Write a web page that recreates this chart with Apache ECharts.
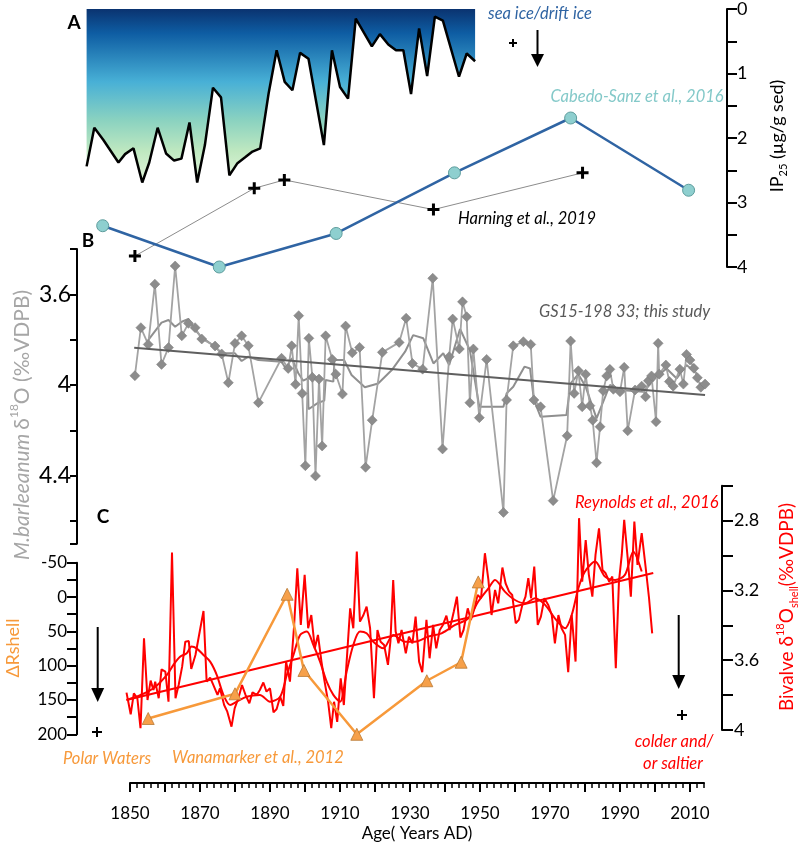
<!DOCTYPE html>
<html>
<head>
<meta charset="utf-8">
<script src="https://cdn.jsdelivr.net/npm/echarts@6/dist/echarts.min.js"></script>
<style>html,body{margin:0;padding:0;background:#fff}#c{width:800px;height:845px}</style>
</head>
<body>
<div id="c"></div>
<script>
// ---------------- DATA ----------------
// Panel A: IP25 record (black line, filled)
const ip25Years = [1837.6,1839.8,1842.4,1846.7,1848.6,1851.0,1853.5,1855.5,1857.9,1860.3,1862.6,1864.7,1867.0,1869.2,1871.4,1873.7,1876.0,1878.4,1880.7,1882.9,1885.0,1887.2,1889.6,1891.9,1894.2,1896.4,1898.6,1901.0,1905.4,1907.7,1910.0,1912.3,1914.5,1919.1,1921.4,1923.8,1926.0,1928.1,1930.3,1932.6,1934.9,1937.1,1939.4,1944.0,1946.2,1948.6];
const ip25Values = [2.44,1.84,2.03,2.38,2.25,2.16,2.69,2.38,1.84,2.24,2.35,2.32,1.76,2.69,2.11,1.22,1.37,2.58,2.39,2.30,2.21,2.16,1.31,0.64,1.13,1.26,0.68,0.77,2.11,0.64,1.21,1.39,0.15,0.58,0.39,0.55,0.64,0.64,1.32,0.30,1.04,0.12,0.18,1.05,0.69,0.81];
// Cabedo-Sanz et al., 2016
const cabedoYears = [1842.2,1875.5,1908.9,1942.7,1975.9,2009.6];
const cabedoValues = [3.36,4.0,3.48,2.54,1.69,2.81];
// Harning et al., 2019
const harningYears = [1851.4,1885.5,1894.1,1936.7,1979.3];
const harningValues = [3.83,2.78,2.65,3.11,2.54];

// Panel B: M. barleeanum d18O (GS15-198 33)
const bYears = [1851.4,1853.1,1855.2,1857.1,1859.0,1861.0,1862.9,1864.8,1866.7,1868.6,1870.5,1874.3,1876.2,1878.1,1880.0,1881.9,1883.8,1886.7,1893.3,1895.2,1896.2,1897.3,1898.2,1899.2,1900.1,1901.1,1902.1,1903.0,1904.0,1904.9,1905.9,1907.8,1908.8,1910.7,1911.6,1913.5,1915.6,1917.3,1919.2,1922.1,1926.9,1928.9,1930.7,1933.6,1936.5,1939.3,1941.2,1942.2,1944.1,1945.0,1946.2,1947.1,1948.1,1949.8,1951.9,1956.7,1957.6,1959.5,1962.4,1964.5,1965.4,1967.3,1970.9,1974.9,1975.9,1976.9,1978.1,1979.2,1980.2,1981.4,1982.2,1983.3,1984.3,1985.2,1986.2,1987.1,1988.1,1990.0,1991.2,1992.2,1994.3,1996.2,1997.3,1998.1,1999.0,2000.3,2000.9,2001.2,2003.1,2004.1,2005.2,2007.1,2008.1,2009.0,2010.0,2011.1,2012.1,2013.1,2014.3];
const bValues = [3.959,3.747,3.821,3.555,3.909,3.835,3.475,3.783,3.728,3.747,3.797,3.828,3.863,3.990,3.816,3.783,3.827,4.078,3.882,3.927,3.827,3.997,3.694,4.037,4.356,3.794,3.966,4.401,3.974,4.269,3.783,3.887,3.952,4.040,3.740,3.858,3.834,4.363,4.155,3.856,3.812,3.705,3.905,3.930,3.529,4.282,3.875,3.709,3.841,3.633,3.699,4.078,3.841,4.144,3.887,4.562,4.066,3.827,3.809,3.821,4.066,4.096,4.510,4.224,3.806,4.037,3.937,4.096,3.953,4.091,4.155,4.343,4.184,4.025,3.960,3.931,4.019,4.030,3.922,4.202,4.022,4.005,4.052,3.981,3.960,4.162,3.816,3.952,3.912,3.985,4.005,3.930,3.996,3.865,3.890,3.926,3.968,4.010,3.996];
const bSmoothYears = [1855.2,1859.0,1861.0,1862.9,1864.8,1866.7,1868.6,1870.5,1874.3,1876.2,1880.0,1881.9,1883.8,1886.7,1893.3,1894.5,1896.2,1898.1,1899.5,1900.8,1901.0,1903.8,1905.5,1905.9,1908.1,1908.4,1911.2,1913.3,1917.1,1920.9,1924.8,1928.6,1930.9,1933.8,1936.7,1939.5,1941.2,1944.3,1947.1,1949.8,1956.7,1957.6,1959.5,1962.7,1964.3,1965.4,1967.3,1974.7,1975.9,1978.1,1980.2,1983.3,1987.1,1990.0,1996.7,2000.5,2003.3,2006.2,2009.0,2011.9];
const bSmoothValues = [3.802,3.725,3.713,3.743,3.721,3.709,3.757,3.790,3.831,3.860,3.860,3.894,3.875,3.890,3.897,3.927,3.882,3.948,3.981,3.971,4.107,4.078,4.069,3.978,3.985,3.890,3.890,3.956,4.010,3.993,3.934,3.853,3.780,3.794,3.905,3.860,3.912,3.753,3.846,4.096,4.096,4.037,4.008,3.919,3.927,4.066,4.140,4.132,3.993,3.952,4.008,4.147,4.000,4.022,4.030,3.963,3.927,3.971,3.912,3.948];
const bTrendYears = [1851.2,2014.3];
const bTrendValues = [3.836,4.044];

// Panel C: Reynolds et al., 2016 bivalve d18O
const reyYears = [1849.0,1850.2,1851.1,1852.1,1853.0,1854.0,1855.0,1855.9,1856.7,1857.2,1858.2,1859.0,1860.1,1861.0,1862.0,1863.0,1863.9,1864.9,1865.8,1866.8,1867.5,1868.7,1870.0,1871.0,1871.9,1872.9,1873.8,1875.0,1875.7,1876.9,1877.8,1879.0,1879.9,1881.0,1882.0,1883.0,1884.1,1885.0,1886.2,1887.1,1888.1,1889.0,1890.0,1891.0,1891.9,1892.9,1893.8,1894.6,1895.7,1896.9,1897.8,1898.8,1899.9,1900.9,1901.8,1902.8,1903.7,1904.7,1905.6,1906.6,1907.5,1908.3,1909.2,1910.2,1911.1,1911.9,1912.9,1913.8,1914.8,1915.7,1916.7,1917.6,1918.6,1919.7,1920.7,1921.6,1922.6,1923.7,1924.4,1925.2,1925.9,1926.7,1927.6,1928.8,1929.7,1930.7,1931.6,1932.6,1933.5,1934.7,1935.6,1936.6,1937.5,1938.5,1939.4,1940.4,1941.3,1942.5,1943.4,1944.4,1945.3,1946.5,1947.4,1948.4,1949.3,1950.3,1951.4,1952.4,1953.3,1954.3,1955.2,1956.4,1957.3,1958.3,1959.2,1960.2,1961.1,1962.1,1963.0,1963.8,1964.6,1965.5,1966.5,1967.4,1968.4,1969.5,1970.5,1971.4,1972.4,1973.3,1974.3,1975.2,1976.2,1977.3,1978.3,1979.2,1980.2,1981.1,1982.1,1983.0,1984.0,1985.0,1985.9,1986.9,1987.8,1988.8,1989.7,1990.5,1991.2,1992.2,1993.1,1994.1,1995.0,1996.2,1997.3,1998.3,1999.2];
const reyValues = [3.786,3.910,3.790,3.818,3.990,3.474,3.828,3.717,3.771,3.723,3.818,3.652,3.665,3.838,2.983,3.818,3.742,3.637,3.494,3.490,3.650,3.570,3.427,3.318,3.723,3.700,3.742,3.799,3.761,3.857,3.895,3.981,3.876,3.815,3.742,3.799,3.847,3.784,3.799,3.771,3.728,3.780,3.761,3.899,3.880,3.809,3.862,3.608,3.723,3.398,3.073,3.398,3.111,3.417,3.341,3.532,3.455,3.608,3.723,3.838,3.990,3.838,3.953,3.704,3.857,3.608,3.303,3.417,2.978,3.379,3.341,3.293,3.417,3.818,3.427,3.494,3.513,3.627,3.494,3.140,3.436,3.503,3.427,3.561,3.465,3.503,3.350,3.608,3.669,3.369,3.589,3.398,3.532,3.427,3.398,3.345,3.427,3.322,3.236,3.470,3.427,3.303,3.369,3.303,3.226,3.245,2.987,3.140,3.341,3.197,3.274,3.069,3.159,3.207,3.226,3.388,3.369,3.283,3.236,3.130,3.245,3.063,3.398,3.350,3.245,3.283,3.341,3.503,3.341,3.417,3.455,3.669,3.341,3.608,2.786,3.150,2.911,3.111,3.236,2.997,2.844,3.083,3.102,3.150,3.121,3.646,3.150,2.997,2.796,3.016,3.236,2.805,3.054,2.872,3.063,3.245,3.446];
const reySmoothYears = [1849.0,1852.9,1856.7,1860.5,1862.4,1864.3,1866.2,1867.6,1869.0,1871.0,1872.9,1874.8,1876.7,1878.6,1880.5,1883.3,1887.1,1890.0,1892.9,1894.8,1896.7,1898.6,1900.5,1902.4,1904.3,1906.2,1908.1,1910.0,1911.9,1913.8,1915.7,1917.6,1919.5,1922.4,1925.2,1928.6,1931.4,1935.2,1939.0,1942.9,1946.7,1949.5,1952.4,1954.3,1957.1,1960.0,1962.9,1965.7,1968.6,1971.4,1974.3,1976.2,1978.1,1980.0,1982.9,1985.7,1988.6,1991.4,1993.8,1996.2];
const reySmoothValues = [3.828,3.800,3.761,3.685,3.627,3.580,3.560,3.522,3.532,3.570,3.608,3.685,3.799,3.857,3.838,3.809,3.799,3.838,3.809,3.685,3.570,3.455,3.436,3.513,3.608,3.723,3.799,3.838,3.665,3.513,3.436,3.446,3.494,3.532,3.455,3.494,3.494,3.465,3.446,3.398,3.360,3.264,3.188,3.140,3.207,3.255,3.274,3.245,3.283,3.360,3.417,3.341,3.188,3.092,3.035,3.121,3.140,3.111,2.978,3.092];
const reyTrendYears = [1849.0,1999.5];
const reyTrendValues = [3.828,3.10];
// Wanamarker et al., 2012 (Delta R shell)
const wanYears = [1855.2,1880.0,1894.9,1899.7,1914.8,1934.8,1944.6,1949.5];
const wanValues = [177,141,-4,107,200,122,95,-22];

// ---------------- CHART ----------------
const FONT = 'Lato, "Open Sans", sans-serif';
const X0 = 130, PPY = 3.5;              // pixel of 1850, pixels per year
const yr = px => 1850 + (px - X0) / PPY;
const pairs = (xs, ys) => xs.map((x, i) => [x, ys[i]]);
const near = (a, b) => Math.abs(a - b) < 1e-6;

const G = [
  {left: 77, width: 650, top: 9, height: 258},        // A
  {left: 77, width: 650, top: 249, height: 294.7},    // B
  {left: 77, width: 650, top: 562.7, height: 171.6},  // C left (Delta R)
  {left: 77, width: 645, top: 485.7, height: 244.3},  // C right (bivalve)
  {left: 130, width: 574, top: 700, height: 83},      // x axis minor
  {left: 130, width: 560, top: 700, height: 83}       // x axis major
];
const grids = G.map(g => Object.assign({containLabel: false, outerBoundsMode: 'none'}, g));

const hiddenX = G.slice(0, 4).map((g, i) => ({
  gridIndex: i, type: 'value', show: false,
  min: yr(g.left), max: yr(g.left + g.width)
}));
const noSplit = {show: false};

const xAxes = hiddenX.concat([
  {gridIndex: 4, type: 'value', min: 1850, max: 2014, interval: 2, position: 'bottom',
   axisLine: {show: true, onZero: false, lineStyle: {color: '#000', width: 2}},
   axisTick: {show: true, length: 5, lineStyle: {color: '#000', width: 1.5}},
   axisLabel: {show: false}, splitLine: noSplit},
  {gridIndex: 5, type: 'value', min: 1850, max: 2010, interval: 10, position: 'bottom',
   axisLine: {show: false, onZero: false},
   axisTick: {show: true, length: 9, lineStyle: {color: '#000', width: 2}},
   axisLabel: {show: true, margin: 22, fontSize: 17, color: '#000', fontFamily: FONT,
     formatter: v => ((Math.round(v) - 1850) % 20 === 0 ? String(Math.round(v)) : '')},
   splitLine: noSplit}
]);

const yAxes = [
  {gridIndex: 0, type: 'value', position: 'right', inverse: true, min: 0, max: 4, interval: 0.5,
   axisLine: {show: true, onZero: false, lineStyle: {color: '#000', width: 2}},
   axisTick: {show: true, length: 10, lineStyle: {color: '#000', width: 2}},
   axisLabel: {margin: 10, fontSize: 18, color: '#000', fontFamily: FONT,
     formatter: v => (near(v, Math.round(v)) ? String(Math.round(v)) : '')},
   splitLine: noSplit},
  {gridIndex: 1, type: 'value', position: 'left', inverse: true, min: 3.4, max: 4.7, interval: 0.2,
   axisLine: {show: true, onZero: false, lineStyle: {color: '#000', width: 2}},
   axisTick: {show: true, length: 7, lineStyle: {color: '#000', width: 2}},
   axisLabel: {margin: 6, fontSize: 23, color: '#000', fontFamily: FONT,
     formatter: v => (near(v, 3.6) ? '3.6' : near(v, 4) ? '4' : near(v, 4.4) ? '4.4' : '')},
   splitLine: noSplit},
  {gridIndex: 2, type: 'value', position: 'left', inverse: true, min: -50, max: 200, interval: 25,
   axisLine: {show: true, onZero: false, lineStyle: {color: '#000', width: 2}},
   axisTick: {show: true, length: 10, lineStyle: {color: '#000', width: 2}},
   axisLabel: {margin: 10, fontSize: 17, color: '#000', fontFamily: FONT,
     formatter: v => (Math.round(v) % 50 === 0 ? String(Math.round(v)) : '')},
   splitLine: noSplit},
  {gridIndex: 3, type: 'value', position: 'right', inverse: true, min: 2.6, max: 4, interval: 0.2,
   axisLine: {show: true, onZero: false, lineStyle: {color: '#000', width: 2}},
   axisTick: {show: true, length: 11, lineStyle: {color: '#000', width: 2}},
   axisLabel: {margin: 12, fontSize: 18, color: '#000', fontFamily: FONT,
     formatter: v => (near(v, 2.8) ? '2.8' : near(v, 3.2) ? '3.2' : near(v, 3.6) ? '3.6' : near(v, 4) ? '4' : '')},
   splitLine: noSplit},
  {gridIndex: 4, type: 'value', show: false, min: 0, max: 1},
  {gridIndex: 5, type: 'value', show: false, min: 0, max: 1}
];

const PLUS = 'path://M4.5,0H7.5V4.5H12V7.5H7.5V12H4.5V7.5H0V4.5H4.5Z';
const seaGrad = new echarts.graphic.LinearGradient(0, 0, 0, 1, [
  {offset: 0, color: '#0a3370'},
  {offset: 0.14, color: '#0e5da3'},
  {offset: 0.42, color: '#48b0d6'},
  {offset: 0.64, color: '#8ad2c0'},
  {offset: 0.82, color: '#bfe8c0'},
  {offset: 1, color: '#e4f6dc'}
]);

const series = [
  {type: 'line', xAxisIndex: 0, yAxisIndex: 0, data: pairs(ip25Years, ip25Values),
   symbol: 'none', clip: false, z: 2,
   lineStyle: {color: '#000', width: 2.5},
   areaStyle: {origin: 'start', color: seaGrad, opacity: 1}},
  {type: 'line', xAxisIndex: 0, yAxisIndex: 0, data: pairs(harningYears, harningValues),
   symbol: PLUS, symbolSize: 12, clip: false, z: 4,
   lineStyle: {color: '#8c8c8c', width: 1}, itemStyle: {color: '#000'}},
  {type: 'line', xAxisIndex: 0, yAxisIndex: 0, data: pairs(cabedoYears, cabedoValues),
   symbol: 'circle', symbolSize: 12, clip: false, z: 5,
   lineStyle: {color: '#2f64a3', width: 2.5},
   itemStyle: {color: '#8ecfcf', borderColor: '#5e9d9d', borderWidth: 1}},
  {type: 'line', xAxisIndex: 1, yAxisIndex: 1, data: pairs(bSmoothYears, bSmoothValues),
   symbol: 'none', clip: false, z: 3,
   lineStyle: {color: '#8f8f8f', width: 2}},
  {type: 'line', xAxisIndex: 1, yAxisIndex: 1, data: pairs(bYears, bValues),
   symbol: 'diamond', symbolSize: 10, clip: false, z: 3,
   lineStyle: {color: '#a3a3a3', width: 1.8},
   itemStyle: {color: '#8c8c8c', borderColor: '#7a7a7a', borderWidth: 0.5}},
  {type: 'line', xAxisIndex: 1, yAxisIndex: 1, data: pairs(bTrendYears, bTrendValues),
   symbol: 'none', clip: false, z: 4,
   lineStyle: {color: '#5f5f5f', width: 2}},
  {type: 'line', xAxisIndex: 3, yAxisIndex: 3, data: pairs(reyYears, reyValues),
   symbol: 'none', clip: false, z: 3,
   lineStyle: {color: '#ff0000', width: 2}},
  {type: 'line', xAxisIndex: 3, yAxisIndex: 3, data: pairs(reySmoothYears, reySmoothValues),
   symbol: 'none', smooth: 0.3, clip: false, z: 3,
   lineStyle: {color: '#ff0000', width: 2}},
  {type: 'line', xAxisIndex: 3, yAxisIndex: 3, data: pairs(reyTrendYears, reyTrendValues),
   symbol: 'none', clip: false, z: 3,
   lineStyle: {color: '#ff0000', width: 2}},
  {type: 'line', xAxisIndex: 2, yAxisIndex: 2, data: pairs(wanYears, wanValues),
   symbol: 'triangle', symbolSize: 12, clip: false, z: 6,
   lineStyle: {color: '#f7993a', width: 2.5},
   itemStyle: {color: '#f6a04a', borderColor: '#b97a35', borderWidth: 0.8}}
];

// ---------------- ANNOTATIONS ----------------
function txt(x, y, text, opt) {
  opt = opt || {};
  return {type: 'text', x: x, y: y, rotation: opt.rot || 0, z: 50,
    style: {text: text, fill: opt.color || '#000',
      font: (opt.style || 'normal') + ' ' + (opt.weight || 'normal') + ' ' + (opt.size || 16) + 'px ' + FONT,
      align: opt.align || 'left', verticalAlign: 'middle',
      textAlign: opt.align || 'left', textVerticalAlign: 'middle',
      rich: opt.rich}};
}
function arrow(x, y1, y2, hw, hl) {
  return [
    {type: 'line', z: 50, shape: {x1: x, y1: y1, x2: x, y2: y2 - hl + 1}, style: {stroke: '#000', lineWidth: 2}},
    {type: 'polygon', z: 50, shape: {points: [[x - hw, y2 - hl], [x + hw, y2 - hl], [x, y2]]}, style: {fill: '#000'}}
  ];
}
function plus(x, y, s, w) {
  return [
    {type: 'line', z: 50, shape: {x1: x - s, y1: y, x2: x + s, y2: y}, style: {stroke: '#000', lineWidth: w}},
    {type: 'line', z: 50, shape: {x1: x, y1: y - s, x2: x, y2: y + s}, style: {stroke: '#000', lineWidth: w}}
  ];
}
const it = {style: 'italic', size: 16.5};
function rs(size, color, extra) {
  return Object.assign({fontSize: size, fontFamily: FONT, fill: color, color: color, lineHeight: size + 6, verticalAlign: 'middle'}, extra || {});
}

const graphics = [
  txt(74, 23, 'A', {weight: 'bold', size: 19, align: 'center'}),
  txt(88, 241, 'B', {weight: 'bold', size: 19, align: 'center'}),
  txt(103, 517, 'C', {weight: 'bold', size: 19, align: 'center'}),
  txt(540, 14, 'sea ice/drift ice', Object.assign({}, it, {align: 'center', color: '#2f64a3'})),
  txt(637, 97, 'Cabedo-Sanz et al., 2016', Object.assign({}, it, {align: 'center', color: '#84c9c9'})),
  txt(458, 219, 'Harning et al., 2019', Object.assign({}, it, {color: '#000'})),
  txt(539, 312, 'GS15-198 33; this study', Object.assign({}, it, {color: '#595959'})),
  txt(575, 503, 'Reynolds et al., 2016', Object.assign({}, it, {color: '#ff0000'})),
  txt(63, 759, 'Polar Waters', Object.assign({}, it, {color: '#f7993a'})),
  txt(172, 758, 'Wanamarker et al., 2012', Object.assign({}, it, {color: '#f7993a'})),
  txt(674, 742, 'colder and/', Object.assign({}, it, {align: 'center', color: '#ff0000'})),
  txt(673, 764, 'or saltier', Object.assign({}, it, {align: 'center', color: '#ff0000'})),
  txt(417, 834, 'Age( Years AD)', {align: 'center', size: 17}),
  // rotated axis titles
  txt(777, 136, '{a|IP}{s|25}{a| (µg/g sed)}', {align: 'center', rot: Math.PI / 2,
    rich: {a: rs(18, '#000'), s: rs(11, '#000', {lineHeight: 11, verticalAlign: 'bottom'})}}),
  txt(22, 425, '{i|M.barleeanum} {a|δ}{p|18}{a|O (‰VDPB)}', {align: 'center', rot: Math.PI / 2,
    rich: {i: rs(21, '#a6a6a6', {fontStyle: 'italic'}), a: rs(21, '#a6a6a6'),
           p: rs(12, '#a6a6a6', {lineHeight: 12, verticalAlign: 'top'})}}),
  txt(13, 648, 'ΔRshell', {align: 'center', rot: Math.PI / 2, size: 18, color: '#f7993a'}),
  txt(787, 607, '{a|Bivalve δ}{p|18}{a|O}{s|shell}{a|(‰VDPB)}', {align: 'center', rot: Math.PI / 2,
    rich: {a: rs(19, '#ff0000'), p: rs(11, '#ff0000', {lineHeight: 11, verticalAlign: 'top'}),
           s: rs(11, '#ff0000', {lineHeight: 11, verticalAlign: 'bottom'})}})
].concat(
  arrow(537.5, 30, 67, 6.5, 13),
  plus(513, 43, 4, 2),
  arrow(97.7, 627, 702, 6.5, 14),
  plus(97, 732, 5, 2),
  arrow(678.7, 615, 689, 6.5, 14),
  plus(682, 715, 5, 2)
);

const chart = echarts.init(document.getElementById('c'), null, {renderer: 'canvas'});
chart.setOption({
  animation: false,
  backgroundColor: '#fff',
  grid: grids,
  xAxis: xAxes,
  yAxis: yAxes,
  series: series,
  graphic: graphics
});
</script>
</body>
</html>
